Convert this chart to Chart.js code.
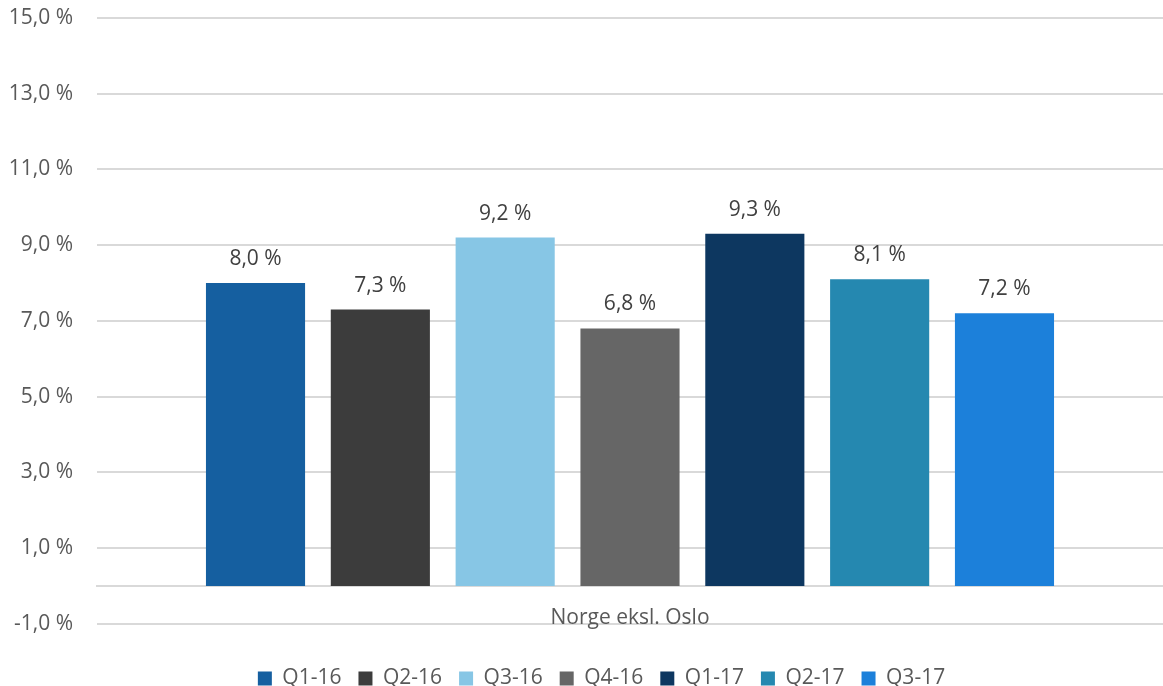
<!DOCTYPE html>
<html>
<head>
<meta charset="utf-8">
<script src="https://cdn.jsdelivr.net/npm/chart.js@4.4.0/dist/chart.umd.min.js"></script>
<style>
  html, body { margin: 0; padding: 0; background: #fff; }
  #wrap { width: 1163px; height: 686px; }
</style>
</head>
<body>
<div id="wrap"><canvas id="vekst_chart"></canvas></div>
<script>
var categories = ['Norge eksl. Oslo'];
var quarters = ['Q1-16', 'Q2-16', 'Q3-16', 'Q4-16', 'Q1-17', 'Q2-17', 'Q3-17'];
var values = [8.0, 7.3, 9.2, 6.8, 9.3, 8.1, 7.2];
var yTicks = [-1, 1, 3, 5, 7, 9, 11, 13, 15];

var colors = ['#155fa0', '#3c3c3c', '#87c6e5', '#666666', '#0d3760', '#2588b0', '#1c80da'];

function pct(v) {
  return v.toFixed(1).replace('.', ',') + ' %';
}

var datasets = [];
quarters.forEach(function (q, i) {
  datasets.push({
    label: q,
    data: [values[i]],
    backgroundColor: colors[i],
    borderWidth: 0,
    categoryPercentage: 0.8197,
    barPercentage: 0.794
  });
});

// value labels over the bars
var barLabels = {
  id: 'barLabels',
  afterDatasetsDraw: function (chart) {
    var ctx = chart.ctx;
    ctx.save();
    ctx.font = '21px "Open Sans"';
    ctx.fillStyle = '#404040';
    ctx.textAlign = 'center';
    ctx.textBaseline = 'middle';
    chart.data.datasets.forEach(function (ds, i) {
      var bar = chart.getDatasetMeta(i).data[0];
      ctx.fillText(pct(ds.data[0]), bar.x, bar.y - 24);
    });
    ctx.restore();
  }
};

// legend sits a bit right of the canvas centre
var shiftLegend = {
  id: 'shiftLegend',
  afterLayout: function (chart) {
    var lg = chart.legend;
    lg.left += 30;
    lg.width = lg.right - lg.left;
  }
};

var ctx = document.getElementById('vekst_chart').getContext('2d');
var chart = new Chart(ctx, {
  type: 'bar',
  data: {
    labels: categories,
    datasets: datasets
  },
  options: {
    responsive: true,
    maintainAspectRatio: false,
    animation: false,
    layout: { padding: { top: 18, right: -10, bottom: -13, left: 0 } },
    plugins: {
      legend: {
        position: 'bottom',
        title: { display: true, text: ' ', font: { size: 1 }, padding: { top: 15, bottom: 11 } },
        labels: {
          boxWidth: 14,
          boxHeight: 14,
          padding: 17,
          color: '#595959',
          font: { family: 'Open Sans', size: 21 }
        }
      },
      tooltip: { enabled: false }
    },
    scales: {
      x: {
        position: { y: 0 },
        afterFit: function (axis) { axis.height = 0; },
        grid: { display: false },
        border: { display: true, color: '#d9d9d9', width: 2 },
        ticks: {
          color: '#595959',
          padding: 11,
          font: { family: 'Open Sans', size: 21 }
        }
      },
      y: {
        min: -1,
        max: 15,
        afterBuildTicks: function (axis) {
          axis.ticks = yTicks.map(function (v) { return { value: v }; });
        },
        afterFit: function (axis) { axis.width = 97; },
        grid: { color: '#d9d9d9', lineWidth: 2, drawTicks: true, tickLength: 24, tickColor: 'rgba(0,0,0,0)' },
        border: { display: false },
        ticks: {
          color: '#595959',
          padding: 0,
          font: { family: 'Open Sans', size: 21 },
          callback: function (v) { return pct(v); }
        }
      }
    }
  },
  plugins: [barLabels, shiftLegend]
});
</script>
</body>
</html>
